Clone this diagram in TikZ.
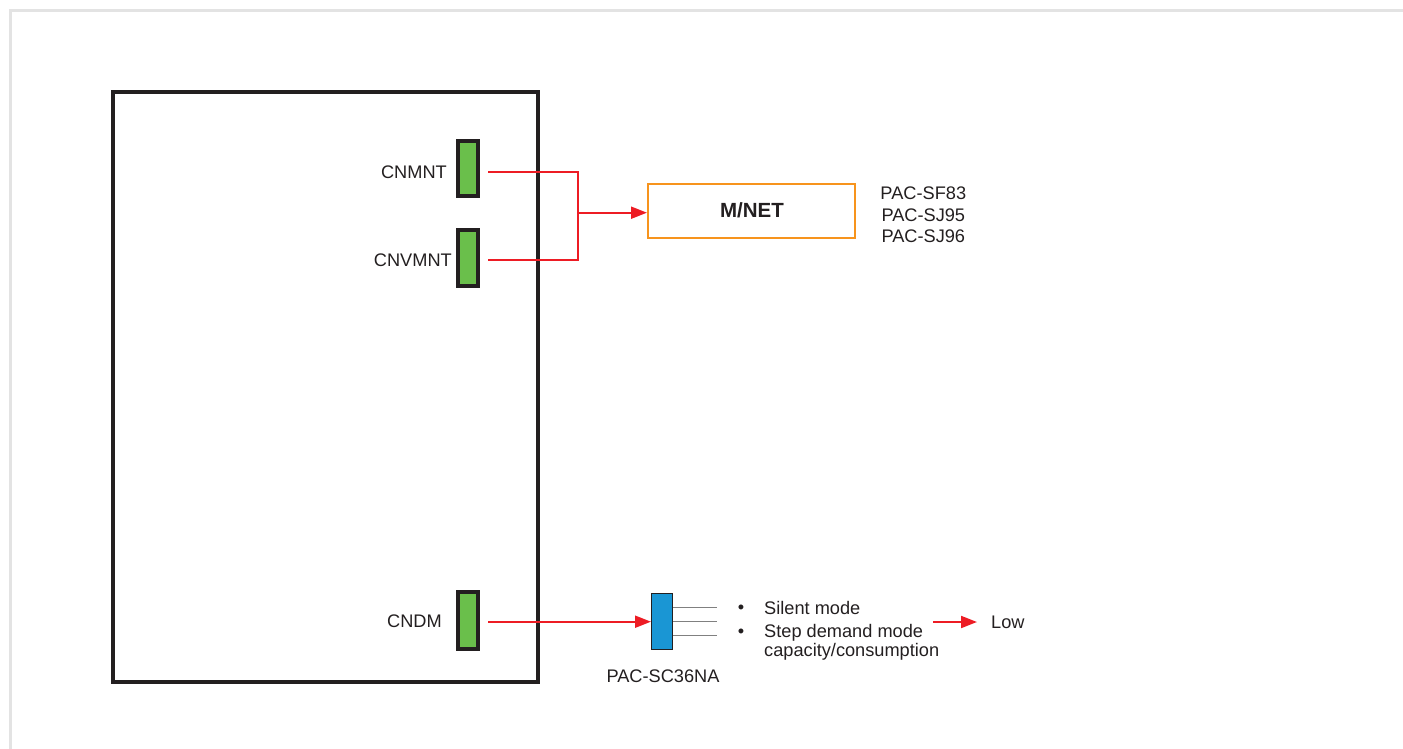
\documentclass[tikz,border=0pt]{standalone}
\usepackage{fontspec}
\setmainfont{Liberation Sans}
\usetikzlibrary{arrows.meta}
\definecolor{ink}{HTML}{231F20}
\definecolor{conred}{HTML}{ED1C24}
\definecolor{congreen}{HTML}{6ABF4B}
\definecolor{conblue}{HTML}{1A96D4}
\definecolor{mnetorange}{HTML}{F7941D}
\definecolor{framegray}{HTML}{E3E3E3}
\definecolor{pingray}{HTML}{808080}
\tikzset{
  lbl/.style={inner sep=0pt, text=ink, font=\fontsize{18.2}{21.5}\selectfont},
  boldlbl/.style={inner sep=0pt, text=ink, font=\fontsize{20.5}{24}\selectfont\bfseries},
  socket/.style={draw=ink, fill=congreen, line width=4pt, minimum width=20pt, inner sep=0pt},
  unitbox/.style={draw=ink, line width=4pt, minimum width=425pt, minimum height=589.5pt, inner sep=0pt},
  mnetbox/.style={draw=mnetorange, line width=2pt, minimum width=207pt, minimum height=54pt, inner sep=0pt},
  adapter/.style={draw=ink, fill=conblue, line width=1pt, minimum width=21pt, minimum height=56pt, inner sep=0pt},
  wire/.style={draw=conred, line width=2pt},
  wirearrow/.style={wire, -{Triangle[length=16pt,width=12pt]}},
  pin/.style={draw=pingray, line width=1.2pt},
}
\begin{document}
\begin{tikzpicture}[x=1pt,y=-1pt]
\useasboundingbox (0,0) rectangle (1403,749);
% outer frame
\draw[framegray, line width=3pt] (10.5,749) -- (10.5,10.5) -- (1403,10.5);
% main unit
\node[unitbox] (unit) at (325.5,387.25) {};
% sockets
\node[socket, minimum height=55pt] (cnmnt) at (468,168.5) {};
\node[socket, minimum height=56pt] (cnvmnt) at (468,258) {};
\node[socket, minimum height=56.5pt] (cndm) at (468,620.5) {};
\node[lbl, anchor=east] (tcnmnt) at (447,172) {CNMNT};
\node[lbl, anchor=east] (tcnvmnt) at (452,260) {CNVMNT};
\node[lbl, anchor=east] (tcndm) at (442,621.5) {CNDM};
% M/NET
\node[mnetbox] (mnet) at (751.5,211) {};
\node[boldlbl] (tmnet) at (752,210.5) {M/NET};
\node[lbl, anchor=base] (p1) at (923.3,200) {PAC-SF83};
\node[lbl, anchor=base] (p2) at (923.3,221.5) {PAC-SJ95};
\node[lbl, anchor=base] (p3) at (923.3,242.5) {PAC-SJ96};
% wires to M/NET
\coordinate (s1) at (488,171.7);
\coordinate (s2) at (488,260);
\coordinate (j) at (578,212.7);
\draw[wire] (s1) -| (j) |- (s2);
\draw[wirearrow] (j) -- (j -| mnet.west);
% adapter
\node[adapter] (adp) at (662,621.5) {};
\coordinate (s3) at (488,621.7);
\draw[wirearrow] (s3) -- (s3 -| adp.west);
\coordinate (q1) at (717,607.7);
\coordinate (q2) at (717,621.7);
\coordinate (q3) at (717,635.3);
\draw[pin] (q1 -| adp.east) -- (q1);
\draw[pin] (q2 -| adp.east) -- (q2);
\draw[pin] (q3 -| adp.east) -- (q3);
\node[lbl] (tadp) at (663,676.5) {PAC-SC36NA};
% modes
\node[lbl] (b1) at (741,609.5) {•};
\node[lbl] (b2) at (741,633) {•};
\node[lbl, anchor=base west] (m1) at (764,614) {Silent mode};
\node[lbl, anchor=base west] (m2) at (764,637.3) {Step demand mode};
\node[lbl, anchor=base west] (m3) at (764,656.7) {capacity/consumption};
\node[lbl, anchor=west] (low) at (991,622) {Low};
\coordinate (a1) at (933,622);
\draw[wirearrow] (a1) -- ([xshift=-14pt]low.west);
\end{tikzpicture}
\end{document}
